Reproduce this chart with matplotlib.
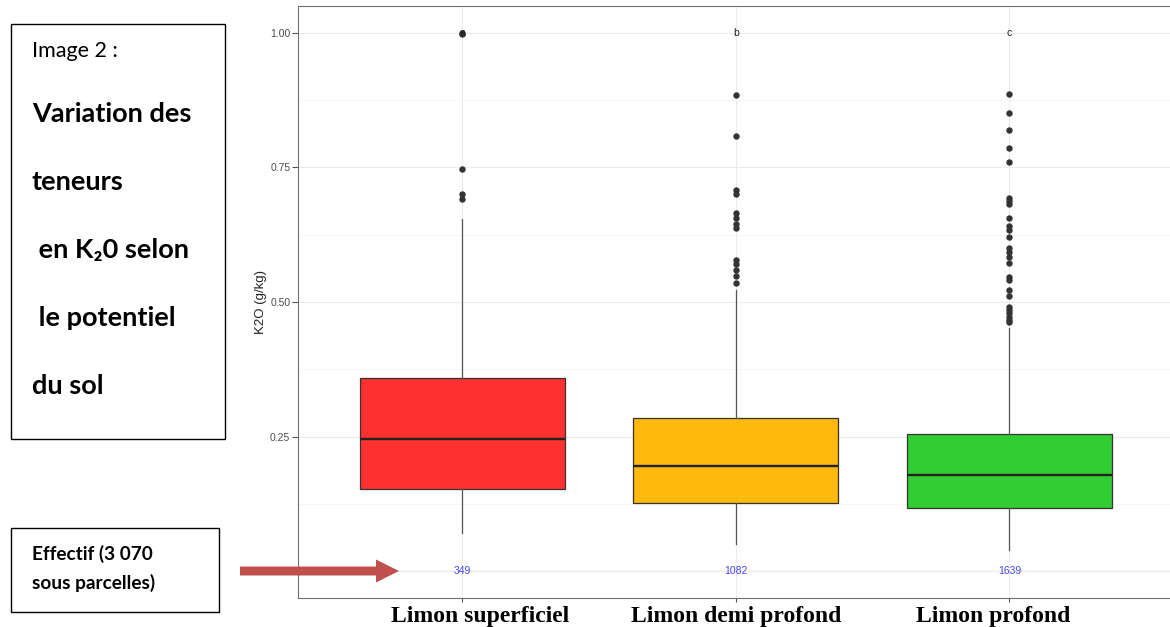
import numpy as np
import matplotlib
matplotlib.use("Agg")
import matplotlib.pyplot as plt
import matplotlib.transforms as mtransforms
from matplotlib.patches import Rectangle, FancyArrow

plt.rcParams['font.family'] = ['Liberation Sans', 'DejaVu Sans']

# values
categories = ["Limon superficiel", "Limon demi profond", "Limon profond"]
effectifs = [349, 1082, 1639]
groupes = ["a", "b", "c"]
q1 = [0.153, 0.126, 0.118]
medians = [0.245, 0.196, 0.179]
q3 = [0.359, 0.285, 0.255]
whisk_lo = [0.070, 0.051, 0.040]
whisk_hi = [0.654, 0.522, 0.452]
outliers_1 = [1.000, 0.998, 0.747, 0.700, 0.692]
outliers_2 = [0.885, 0.809, 0.708, 0.700, 0.665, 0.656, 0.645, 0.637,
              0.578, 0.570, 0.560, 0.548, 0.535]
outliers_3 = [0.887, 0.851, 0.820, 0.787, 0.760, 0.693, 0.688, 0.682,
              0.656, 0.641, 0.633, 0.621, 0.601, 0.592, 0.583, 0.572,
              0.547, 0.541, 0.522, 0.511, 0.491, 0.485, 0.479, 0.472,
              0.466, 0.463]
colors = ["#FF3030", "#FFB90F", "#32CD32"]
label_shift = [0.065, 0.0, -0.06]  # overlaid labels are not exactly centred

W, H = 1170, 627
fig = plt.figure(figsize=(W / 100, H / 100), dpi=100)
ax = fig.add_axes([298 / W, 1 - 598 / H, (W - 298) / W, 592 / H])

pos = np.arange(1, len(categories) + 1)
fliers = [outliers_1, outliers_2, outliers_3]
stats = []
for i in range(len(categories)):
    stats.append(dict(med=medians[i], q1=q1[i], q3=q3[i],
                      whislo=whisk_lo[i], whishi=whisk_hi[i], fliers=fliers[i]))

bp = ax.bxp(stats, positions=pos, widths=0.75, patch_artist=True, showcaps=False,
            boxprops=dict(edgecolor="#333333", linewidth=0.9),
            medianprops=dict(color="#222222", linewidth=1.7),
            whiskerprops=dict(color="#555555", linewidth=0.9),
            flierprops=dict(marker="o", markersize=3.6, markerfacecolor="#333333",
                            markeredgecolor="#333333", linestyle="none"))
for patch, c in zip(bp["boxes"], colors):
    patch.set_facecolor(c)

# counts and groups
for p, n, g in zip(pos, effectifs, groupes):
    ax.text(p, 0.0, str(n), ha="center", va="center", fontsize=7.5, color="#4545F5")
    ax.text(p, 1.0, g, ha="center", va="center", fontsize=7.5, color="#2a1a1a")

ax.set_xlim(0.4, 3.587)
ax.set_ylim(-0.05, 1.05)
ax.set_xticks(pos)
ax.set_xticklabels([])
ax.set_yticks([0, 0.25, 0.5, 0.75, 1.0])
ax.set_yticklabels(["0.00", "0.25", "0.50", "0.75", "1.00"])
ax.set_yticks([0.125, 0.375, 0.625, 0.875], minor=True)
ax.tick_params(which="minor", length=0)
ax.tick_params(axis="y", labelsize=7.5, labelcolor="#4D4D4D", color="#555555", length=4, pad=1.5)
ax.tick_params(axis="x", color="#555555", length=3)
ax.grid(which="major", color="#EBEBEB", linewidth=0.8)
ax.grid(which="minor", axis="y", color="#F3F3F3", linewidth=0.5)
ax.set_axisbelow(True)
for s in ["left", "top", "bottom"]:
    ax.spines[s].set_color("#6F6F6F")
    ax.spines[s].set_linewidth(0.8)
ax.spines["right"].set_visible(False)
ax.set_ylabel("K2O (g/kg)", fontsize=9.5, color="#222222", labelpad=2)

# category labels pasted under the plot
tr = mtransforms.blended_transform_factory(ax.transData, fig.transFigure)
for p, s, name in zip(pos, label_shift, categories):
    fig.text(p + s, 1 - 621.7 / H, name, transform=tr, ha="center", va="baseline",
             family="Liberation Serif", fontweight="bold", fontsize=17)

# pixel coords from top-left for the side boxes
pix = mtransforms.Affine2D().scale(1 / W, -1 / H).translate(0, 1) + fig.transFigure

fig.add_artist(Rectangle((11, 24), 214, 415, transform=pix, fill=False,
                         edgecolor="black", linewidth=1))
fig.text(32, 57, "Image 2 :", transform=pix, va="baseline",
         family=["Lato", "DejaVu Sans"], fontsize=15.5)
lines = ["Variation des", "teneurs", " en K\u20820 selon", " le potentiel", "du sol"]
base_y = [122, 190, 258, 326, 394]
for txt, yb in zip(lines, base_y):
    fig.text(32, yb, txt, transform=pix, va="baseline",
             family=["Lato", "DejaVu Sans"], fontweight="bold", fontsize=19.5)

fig.add_artist(Rectangle((11, 528), 208, 84, transform=pix, fill=False,
                         edgecolor="black", linewidth=1))
fig.text(32, 560, "Effectif (3 070", transform=pix, va="baseline",
         family=["Lato", "DejaVu Sans"], fontweight="bold", fontsize=13.7)
fig.text(32, 589, "sous parcelles)", transform=pix, va="baseline",
         family=["Lato", "DejaVu Sans"], fontweight="bold", fontsize=13.7)

fig.add_artist(FancyArrow(240, 571, 159, 0, width=9, head_width=23, head_length=23,
                          length_includes_head=True, transform=pix,
                          color="#C0504D", linewidth=0))

plt.savefig("out.png", dpi=100)
